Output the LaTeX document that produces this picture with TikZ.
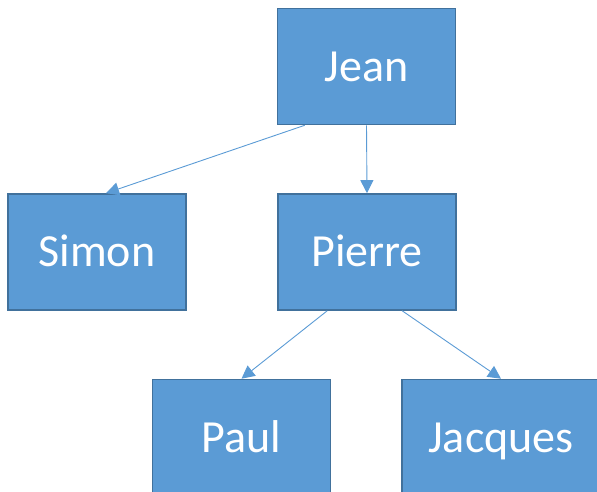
\documentclass[tikz,border=0pt]{standalone}
\usepackage{fontspec}
\setmainfont{Carlito}
\definecolor{boxfill}{HTML}{5B9BD5}
\definecolor{boxline}{HTML}{41719C}
\tikzset{
  person/.style={draw=boxline, line width=1.6pt, fill=boxfill, text=white,
    minimum height=116pt, inner sep=0pt, text height=29.6pt, text depth=0pt,
    font=\fontsize{46}{50}\selectfont},
  link/.style={draw=boxfill, line width=0.9pt, -{Triangle[length=13pt,width=13pt]}}
}
\usetikzlibrary{arrows.meta}
\begin{document}
\begin{tikzpicture}[x=1pt,y=-1pt]
		\useasboundingbox (0,0) rectangle (597,492);
		\clip (0,0) rectangle (597,492);
		\node [person, minimum width=178pt] (jean) at (366.5,66.5) {Jean};
		\node [person, minimum width=178pt] (simon) at (97,252) {Simon};
		\node [person, minimum width=178pt] (pierre) at (367,252) {Pierre};
		\node [person, minimum width=178pt] (paul) at (241.5,437.5) {Paul};
		\node [person, minimum width=198pt] (jacques) at (501,437.5) {Jacques};

		\draw [link] ([xshift=28pt]jean.south west) to ([xshift=9pt]simon.north);
		\draw [link] (jean.south) to (pierre.north);
		\draw [link] ([xshift=50pt]pierre.south west) to (paul.north);
		\draw [link] ([xshift=125pt]pierre.south west) to (jacques.north);
\end{tikzpicture}
\end{document}
